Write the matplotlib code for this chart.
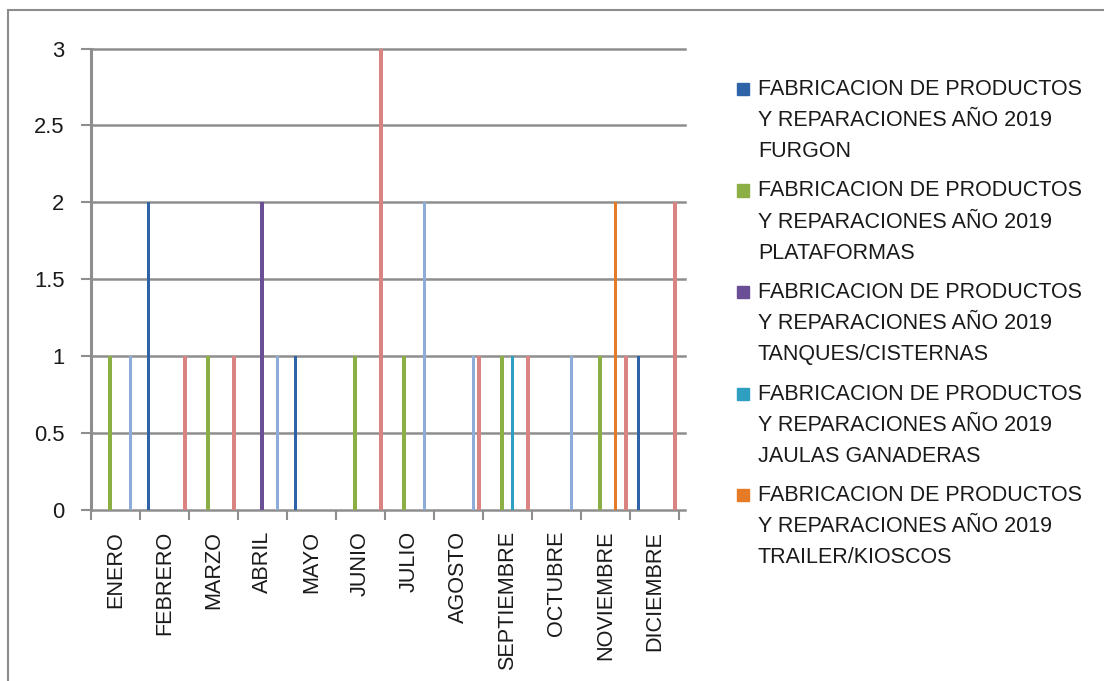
import matplotlib.pyplot as plt
from matplotlib.patches import Rectangle

plt.rcParams['font.family'] = ['Liberation Sans', 'DejaVu Sans']

# Meses (categorias)
meses = ["ENERO", "FEBRERO", "MARZO", "ABRIL", "MAYO", "JUNIO", "JULIO",
         "AGOSTO", "SEPTIEMBRE", "OCTUBRE", "NOVIEMBRE", "DICIEMBRE"]

# Series (unidades por mes)
furgon = [0, 2, 0, 0, 1, 0, 0, 0, 0, 0, 0, 1]
plataformas = [1, 0, 1, 0, 0, 1, 1, 0, 1, 0, 1, 0]
tanques = [0, 0, 0, 2, 0, 0, 0, 0, 0, 0, 0, 0]
jaulas = [0, 0, 0, 0, 0, 0, 0, 0, 1, 0, 0, 0]
trailer = [0, 0, 0, 0, 0, 0, 0, 0, 0, 0, 2, 0]
serie_6 = [1, 0, 0, 1, 0, 0, 2, 1, 0, 1, 0, 0]   # no visible en la leyenda
serie_7 = [0, 1, 1, 0, 0, 3, 0, 1, 1, 0, 1, 2]   # no visible en la leyenda

prefijo = "FABRICACION DE PRODUCTOS\nY REPARACIONES AÑO 2019\n"
nombres = ["FURGON", "PLATAFORMAS", "TANQUES/CISTERNAS", "JAULAS GANADERAS",
           "TRAILER/KIOSCOS"]

series = [furgon, plataformas, tanques, jaulas, trailer, serie_6, serie_7]
colores = ["#2F63A8", "#8BAF45", "#6B4F96", "#2E9FC0", "#E67A25",
           "#8EACDA", "#D98383"]
slots = [0, 2, 3, 4, 5, 6, 7]   # posicion de cada serie dentro del grupo
paso = 0.106
inicio = -0.327
ancho = 0.07

W, H = 1104, 681
fig = plt.figure(figsize=(W / 100, H / 100), dpi=100)
ax = fig.add_axes([91 / W, 1 - 510 / H, 588 / W, (510 - 48.5) / H])

x = list(range(len(meses)))
for vals, color, s in zip(series, colores, slots):
    pos = [xi + inicio + s * paso for xi in x]
    ax.bar(pos, vals, width=ancho, color=color, linewidth=0, zorder=3)

ax.set_xlim(-0.5, len(meses) - 0.5)
ax.set_ylim(0, 3)
ax.set_yticks([0, 0.5, 1, 1.5, 2, 2.5, 3])
ax.set_yticklabels(["0", "0.5", "1", "1.5", "2", "2.5", "3"])

grid_col = "#8e8e8e"
for y in [0, 0.5, 1, 1.5, 2, 2.5, 3]:
    ax.axhline(y, xmin=0, xmax=(685 - 91) / 588, color=grid_col, lw=1.8,
               clip_on=False, zorder=2)

for sp in ["top", "right", "bottom"]:
    ax.spines[sp].set_visible(False)
ax.spines["left"].set_color(grid_col)
ax.spines["left"].set_linewidth(2.2)

ax.set_xticks(x)
ax.set_xticklabels(meses, rotation=90)
ax.set_xticks([i - 0.5 for i in range(len(meses) + 1)], minor=True)
ax.tick_params(axis="x", which="major", length=0, pad=15, labelsize=15.6,
               labelcolor="#1a1a1a")
ax.tick_params(axis="x", which="minor", length=7, width=1.5, color=grid_col)
ax.tick_params(axis="y", length=7, width=1.5, color=grid_col, pad=12,
               labelsize=15.8, labelcolor="#1a1a1a")

# Leyenda (solo se ven las primeras cinco series)
for i, nombre in enumerate(nombres):
    ytop = 79 + i * 101.5
    fig.text(758 / W, 1 - ytop / H, prefijo + nombre, va="top", ha="left",
             fontsize=15.5, color="#1a1a1a", linespacing=1.63)
    fig.add_artist(Rectangle((737 / W, 1 - (ytop + 16) / H), 12 / W, 12 / H,
                             transform=fig.transFigure, color=colores[i]))

# Borde del area del grafico
fig.add_artist(Rectangle((8 / W, -0.1), 1.2, 1.1 - 10 / H, transform=fig.transFigure,
                         fill=False, edgecolor="#8c8c8c", lw=1.5))

fig.savefig("out.png", dpi=100)
